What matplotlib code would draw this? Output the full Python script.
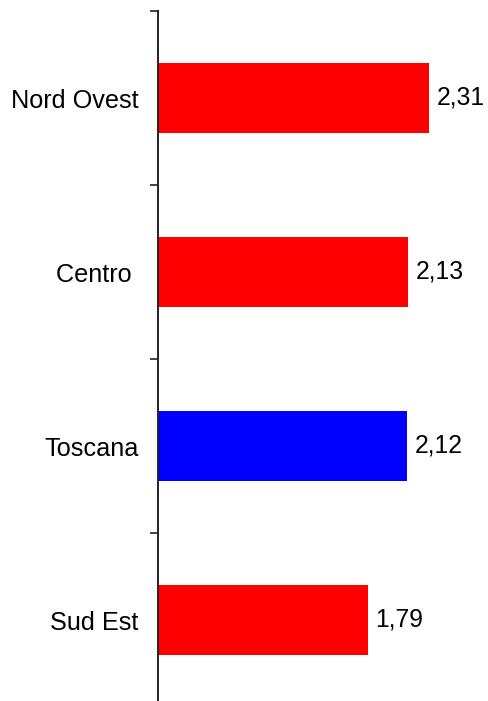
import matplotlib
matplotlib.use('Agg')
import matplotlib.pyplot as plt

regions = ['Nord Ovest', 'Centro ', 'Toscana', 'Sud Est']
values = [2.31, 2.13, 2.12, 1.79]
colors = ['#ff0000', '#ff0000', '#0000ff', '#ff0000']

plt.rcParams['font.family'] = ['Liberation Sans', 'DejaVu Sans']

fig = plt.figure(figsize=(4.88, 7.01), dpi=100)
# axes runs slightly past the bottom edge so the last band stays full height
ax = fig.add_axes([158 / 488, -6 / 701, 1 - 158 / 488, 696 / 701])

pos = list(range(len(regions)))
ax.barh(pos, values, height=0.4, color=colors)

for y, v in zip(pos, values):
    ax.text(v + 0.065, y, f'{v:.2f}'.replace('.', ','), va='center', ha='left', fontsize=17.8)

ax.set_ylim(3.5, -0.5)
ax.set_xlim(0, 2.813)

ax.set_yticks(pos)
ax.set_yticklabels(regions, fontsize=18.2)
ax.tick_params(axis='y', which='major', length=0, pad=14)
ax.set_yticks([-0.5, 0.5, 1.5, 2.5], minor=True)
ax.tick_params(axis='y', which='minor', length=6, width=1.2, color='#222222')
ax.set_xticks([])

for side in ['top', 'right', 'bottom']:
    ax.spines[side].set_visible(False)
ax.spines['left'].set_linewidth(1.4)
ax.spines['left'].set_color('#222222')

fig.savefig('out.png', dpi=100)
